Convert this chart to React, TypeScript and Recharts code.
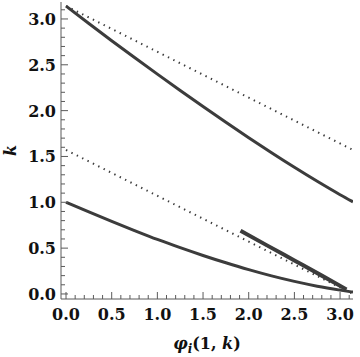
import React from 'react'
import { LineChart, Line, XAxis, YAxis, Label } from 'recharts'

// phi grid for the two solid branches
const phi = [0, 0.25, 0.5, 0.75, 1.0, 1.25, 1.5, 1.75, 2.0, 2.25, 2.5, 2.75, 3.0, 3.1416]
const upperK = [3.14, 2.95, 2.763, 2.579, 2.398, 2.22, 2.045, 1.873, 1.705, 1.541, 1.382, 1.229, 1.083, 1.005]
const lowerK = [1.0, 0.895, 0.792, 0.692, 0.595, 0.505, 0.42, 0.34, 0.265, 0.197, 0.137, 0.085, 0.042, 0.02]

// short thick branch
const branchPhi = [1.91, 2.2, 2.5, 2.8, 3.07]
const branchK = [0.69, 0.53, 0.365, 0.2, 0.05]

// dotted asymptotes
const asymPhi = [0, 3.1416]
const asymUpperK = [3.1416, 1.5708]
const asymLowerK = [1.5708, 0]

const majorTicks = [0, 0.5, 1, 1.5, 2, 2.5, 3]
const xTicks = Array.from({ length: 32 }, (_, i) => i / 10)
const yTicks = Array.from({ length: 32 }, (_, i) => i / 10)

const zip = (xs: number[], ys: number[]) => xs.map((x, i) => ({ x, y: ys[i] }))

const FRAME = '#5a5a5a'
const INK = '#3c3c3c'
const txt = {
  fontFamily: 'DejaVu Serif',
  fontWeight: 700,
  fontSize: 16,
  fill: '#111',
}

const isMajor = (v: number) => majorTicks.some(m => Math.abs(m - v) < 1e-6)

function makeTick(side: 'bottom' | 'top' | 'left' | 'right') {
  return (props: any) => {
    const { x, y, payload } = props
    const v = payload.value
    const len = isMajor(v) ? 7 : 4
    let line
    if (side === 'bottom') line = <line x1={x} x2={x} y1={y} y2={y - len} stroke={FRAME} />
    else if (side === 'top') line = <line x1={x} x2={x} y1={y} y2={y + len} stroke={FRAME} />
    else if (side === 'left') line = <line x1={x} x2={x + len} y1={y} y2={y} stroke={FRAME} />
    else line = <line x1={x} x2={x - len} y1={y} y2={y} stroke={FRAME} />
    let text = null
    if (isMajor(v) && side === 'bottom')
      text = <text x={x} y={y + 21} textAnchor="middle" style={txt}>{v.toFixed(1)}</text>
    if (isMajor(v) && side === 'left')
      text = <text x={x - 5} y={y + 6} textAnchor="end" style={txt}>{v.toFixed(1)}</text>
    return <g>{line}{text}</g>
  }
}

const XLabel = (props: any) => {
  const vb = props.viewBox
  return (
    <text x={vb.x + vb.width / 2} y={vb.y + 50} textAnchor="middle" style={txt}>
      <tspan fontStyle="italic">φ</tspan>
      <tspan fontStyle="italic" fontSize={12} dy={4}>i</tspan>
      <tspan dy={-4}>(1, </tspan>
      <tspan fontStyle="italic">k</tspan>
      <tspan>)</tspan>
    </text>
  )
}

const YLabel = (props: any) => {
  const vb = props.viewBox
  const cy = vb.y + vb.height / 2
  return (
    <text x={16} y={cy} transform={`rotate(-90 16 ${cy})`} textAnchor="middle" style={{ ...txt, fontStyle: 'italic' }}>
      k
    </text>
  )
}

export default function App() {
  return (
    <div style={{ position: 'absolute', left: 0, top: 0, background: '#fff' }}>
      <LineChart width={360} height={357} margin={{ top: 2, right: 7, left: 0, bottom: 0 }}>
        <XAxis
          type="number" dataKey="x" domain={[-0.055, 3.1416]} allowDataOverflow
          ticks={xTicks} interval={0} tickSize={0} tickMargin={0} height={58}
          axisLine={{ stroke: FRAME }} tick={makeTick('bottom')}
        >
          <Label content={XLabel} />
        </XAxis>
        <XAxis
          xAxisId="top" orientation="top" type="number" dataKey="x" domain={[-0.055, 3.1416]} allowDataOverflow
          ticks={xTicks} interval={0} tickSize={0} tickMargin={0} height={0}
          axisLine={{ stroke: FRAME }} tick={makeTick('top')}
        />
        <YAxis
          type="number" domain={[-0.055, 3.185]} allowDataOverflow
          ticks={yTicks} interval={0} tickSize={0} tickMargin={0} width={61}
          axisLine={{ stroke: FRAME }} tick={makeTick('left')}
        >
          <Label content={YLabel} />
        </YAxis>
        <YAxis
          yAxisId="right" orientation="right" type="number" domain={[-0.055, 3.185]} allowDataOverflow
          ticks={yTicks} interval={0} tickSize={0} tickMargin={0} width={0}
          axisLine={{ stroke: FRAME }} tick={makeTick('right')}
        />
        <Line data={zip(asymPhi, asymUpperK)} dataKey="y" stroke={INK} strokeWidth={2} strokeDasharray="1.4 4.6" dot={false} isAnimationActive={false} />
        <Line data={zip(asymPhi, asymLowerK)} dataKey="y" stroke={INK} strokeWidth={2} strokeDasharray="1.4 4.6" dot={false} isAnimationActive={false} />
        <Line data={zip(phi, upperK)} dataKey="y" type="monotone" stroke={INK} strokeWidth={3} dot={false} isAnimationActive={false} />
        <Line data={zip(phi, lowerK)} dataKey="y" type="monotone" stroke={INK} strokeWidth={3} dot={false} isAnimationActive={false} />
        <Line data={zip(branchPhi, branchK)} dataKey="y" type="monotone" stroke={INK} strokeWidth={4} dot={false} isAnimationActive={false} />
      </LineChart>
    </div>
  )
}
